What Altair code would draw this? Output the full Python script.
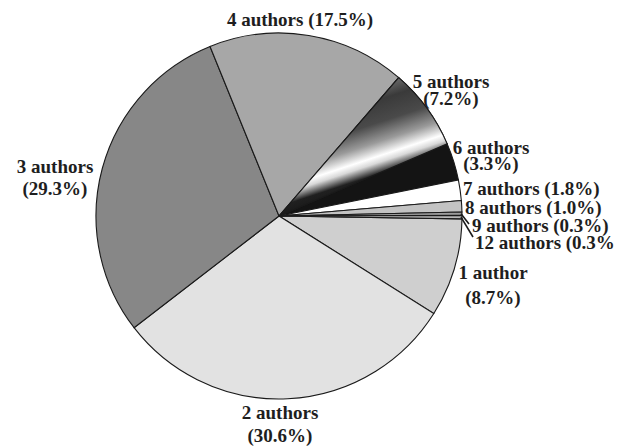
import math
import altair as alt
import pandas as pd

# ---- data ----
names = ["1 author", "2 authors", "3 authors", "4 authors", "5 authors",
         "6 authors", "7 authors", "8 authors", "9 authors", "12 authors"]
shares = [8.7, 30.6, 29.3, 17.5, 7.2, 3.3, 1.8, 1.0, 0.3, 0.3]
fills = ["#cfcfcf", "#e2e2e2", "#878787", "#a7a7a7", "#555555",
         "#141414", "#ffffff", "#c3c3c3", "#9c9c9c", "#b8b8b8"]
label_lines = [["1 author", "(8.7%)"], ["2 authors", "(30.6%)"],
               ["3 authors", "(29.3%)"], ["4 authors (17.5%)"],
               ["5 authors", "(7.2%)"], ["6 authors", "(3.3%)"],
               ["7 authors (1.8%)"], ["8 authors (1.0%)"],
               ["9 authors (0.3%)"], ["12 authors (0.3%"]]

# ---- layout ----
CX, CY, R = 279, 216, 183
START = math.radians(90.9)
label_x = [493, 280, 55, 300, 451, 491, 463, 465, 472, 475]
label_y = [[272.5, 297.5], [412.5, 436], [167, 189], [20], [82, 99],
           [148, 164], [189], [208], [226], [243]]
label_align = ["center", "center", "center", "center", "center", "center",
               "left", "left", "left", "left"]
leader_for = ["9 authors", "12 authors"]
leader_end = [(469, 224), (473, 237)]

df = pd.DataFrame({"name": names, "share": shares, "idx": list(range(len(names)))})

# label table
rows = []
for i, name in enumerate(names):
    for line, y in zip(label_lines[i], label_y[i]):
        rows.append({"text": line, "x": label_x[i], "y": y, "align": label_align[i]})
labels = pd.DataFrame(rows)

# leader lines from the slice edge (from data) to the label
cum = 0.0
mids = {}
for n, s in zip(names, shares):
    mids[n] = START + 2 * math.pi * (cum + s / 2) / 100.0
    cum += s
lrows = []
for n, (ex, ey) in zip(leader_for, leader_end):
    a = mids[n]
    lrows.append({"x": CX + (R - 1) * math.sin(a), "y": CY - (R - 1) * math.cos(a),
                  "x2": ex, "y2": ey})
leaders = pd.DataFrame(lrows)

theta_scale = alt.Scale(domain=[0, 100], range=[START, START + 2 * math.pi])

base = alt.Chart(df).transform_window(
    cum="sum(share)", sort=[alt.SortField("idx")], frame=[None, 0]
).transform_calculate(lo="datum.cum - datum.share")

pie = base.mark_arc(radius=R, stroke="#1a1a1a", strokeWidth=1.1).encode(
    theta=alt.Theta("lo:Q", scale=theta_scale),
    theta2="cum:Q",
    fill=alt.Fill("name:N", scale=alt.Scale(domain=names, range=fills), legend=None),
)

grad = alt.LinearGradient(
    gradient="linear", x1=0.3, y1=0, x2=0.7, y2=1,
    stops=[
        alt.GradientStop(color="#a8a8a8", offset=0.0),
        alt.GradientStop(color="#6a6a6a", offset=0.14),
        alt.GradientStop(color="#3a3a3a", offset=0.24),
        alt.GradientStop(color="#4a4a4a", offset=0.38),
        alt.GradientStop(color="#9a9a9a", offset=0.5),
        alt.GradientStop(color="#ffffff", offset=0.59),
        alt.GradientStop(color="#d8d8d8", offset=0.63),
        alt.GradientStop(color="#202020", offset=0.7),
        alt.GradientStop(color="#151515", offset=0.8),
        alt.GradientStop(color="#6a6a6a", offset=0.92),
        alt.GradientStop(color="#8a8a8a", offset=1.0),
    ],
)

five = base.transform_filter(alt.datum.name == "5 authors").mark_arc(
    radius=R, stroke="#1a1a1a", strokeWidth=1.1, fill=grad
).encode(
    theta=alt.Theta("lo:Q", scale=theta_scale),
    theta2="cum:Q",
)

rules = alt.Chart(leaders).mark_rule(color="#1a1a1a", strokeWidth=1.6).encode(
    x=alt.X("x:Q", scale=None), y=alt.Y("y:Q", scale=None),
    x2="x2:Q", y2="y2:Q",
)

def text_layer(al):
    return alt.Chart(labels).transform_filter(alt.datum.align == al).mark_text(
        font="Liberation Serif", fontWeight="bold", fontSize=19, color="#1e1e1e",
        align=al, baseline="middle",
    ).encode(
        x=alt.X("x:Q", scale=None), y=alt.Y("y:Q", scale=None), text="text:N"
    )

chart = alt.layer(pie, five, rules, text_layer("center"), text_layer("left")).properties(
    width=2 * CX, height=2 * CY,
    padding={"left": 0, "top": 0, "right": 624 - 2 * CX, "bottom": 446 - 2 * CY},
    autosize="none", background="white",
).configure_view(stroke=None)

chart.save("out.html", embed_options={"renderer": "svg", "actions": False})
